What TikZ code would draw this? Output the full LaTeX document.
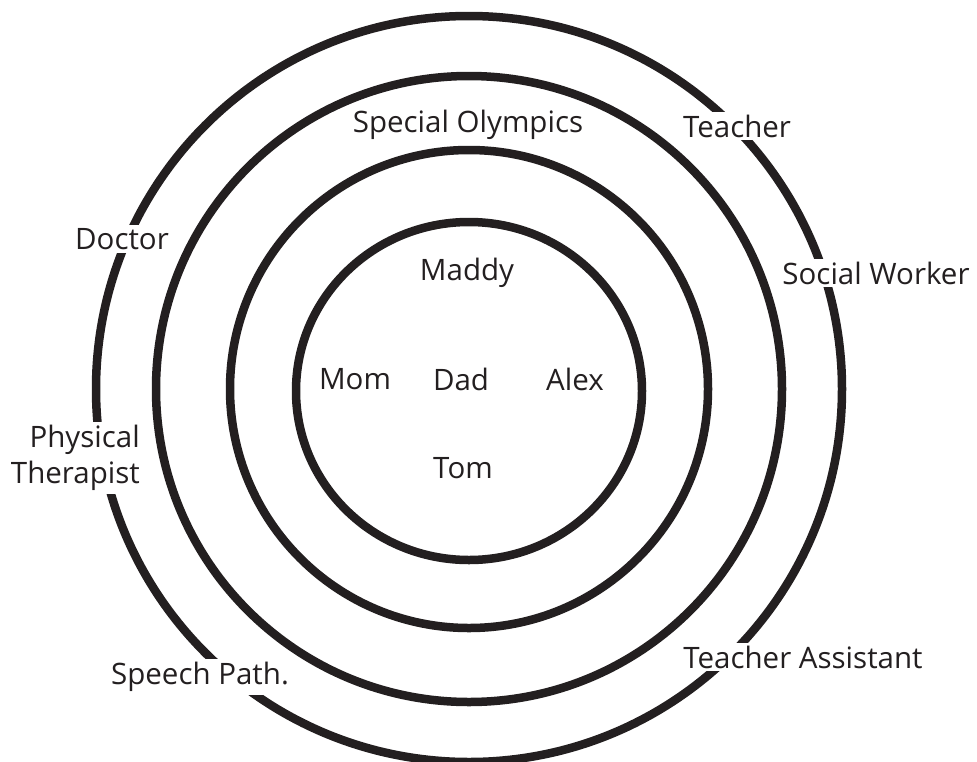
\documentclass[tikz,border=0pt]{standalone}
\usepackage{fontspec}
\setmainfont{Open Sans}
\definecolor{ink}{HTML}{231F20}
\begin{document}
\begin{tikzpicture}[x=1pt,y=-1pt,
  ring/.style={draw=ink,line width=8.5pt},
  lbl/.style={fill=white,inner sep=3pt,text=ink,font=\fontsize{29.5}{36}\selectfont},
  person/.style={inner sep=0pt,text=ink,font=\fontsize{29.5}{36}\selectfont}]
\useasboundingbox (0,0) rectangle (977,761);
\coordinate (c) at (469,389);
\draw[ring] (469,391) ellipse [x radius=173, y radius=169];
\draw[ring] (c) circle [radius=239];
\draw[ring] (c) circle [radius=313];
\draw[ring] (c) circle [radius=373];
\node[lbl] (so) at (468,125) {Special Olympics};
\node[lbl] (teacher) at (737,126) {Teacher};
\node[lbl] (doctor) at (122,239) {Doctor};
\node[lbl] (sw) at (876,273) {Social Worker};
\node[lbl,align=right,anchor=east] (pt) at (143,458) {Physical\\Therapist};
\node[lbl] (sp) at (200,677) {Speech Path.};
\node[lbl] (ta) at (803,657) {Teacher Assistant};
\node[person] (maddy) at (467,273) {Maddy};
\node[person] (mom) at (355,379) {Mom};
\node[person] (dad) at (461,379) {Dad};
\node[person] (alex) at (575,379) {Alex};
\node[person] (tom) at (463,468) {Tom};
\end{tikzpicture}
\end{document}
